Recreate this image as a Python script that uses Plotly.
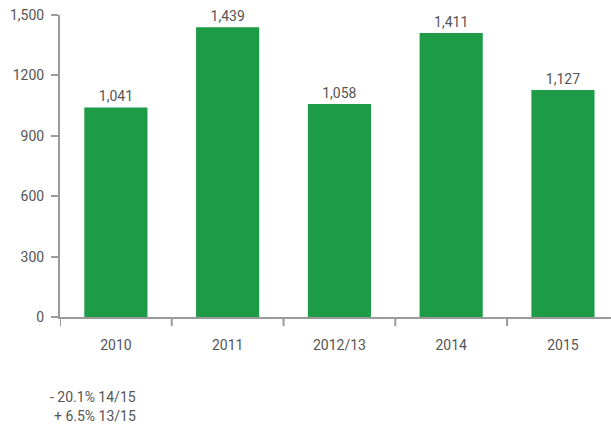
import plotly.graph_objects as go

categories = ["2010", "2011", "2012/13", "2014", "2015"]
values = [1041, 1439, 1058, 1411, 1127]
value_labels = ["1,041", "1,439", "1,058", "1,411", "1,127"]
y_tick_vals = [0, 300, 600, 900, 1200, 1500]
y_tick_text = ["0", "300", "600", "900", "1200", "1,500"]
notes = ["- 20.1% 14/15", "+ 6.5% 13/15"]

FONT = "Roboto"
TEXT = "#555555"
AXIS = "#9a9a9a"

fig = go.Figure(
    go.Bar(
        x=list(range(len(categories))),
        y=values,
        text=value_labels,
        textposition="outside",
        textfont=dict(family=FONT, size=14, color=TEXT),
        marker=dict(color="#1e9b46", line=dict(width=0)),
        cliponaxis=False,
        width=0.565,
    )
)

fig.update_layout(
    width=611,
    height=429,
    margin=dict(l=60, r=0, t=15, b=112),
    paper_bgcolor="white",
    plot_bgcolor="white",
    showlegend=False,
    font=dict(family=FONT, size=14, color=TEXT),
    xaxis=dict(
        range=[-0.5, 4.43],
        tickmode="array",
        tickvals=list(range(len(categories))),
        ticktext=categories,
        showgrid=False,
        zeroline=False,
        showline=True,
        linecolor=AXIS,
        linewidth=2,
        ticks="",
        ticklabelstandoff=14,
        tickfont=dict(family=FONT, size=14, color=TEXT),
    ),
    yaxis=dict(
        range=[0, 1500],
        tickmode="array",
        tickvals=y_tick_vals,
        ticktext=y_tick_text,
        showgrid=False,
        zeroline=False,
        showline=True,
        linecolor=AXIS,
        linewidth=2,
        ticks="outside",
        ticklen=7,
        tickwidth=2,
        tickcolor=AXIS,
        ticklabelstandoff=4,
        tickfont=dict(family=FONT, size=14, color=TEXT),
    ),
)

# category boundary ticks below the x axis
for b in [-0.5, 0.5, 1.5, 2.5, 3.5]:
    fig.add_shape(
        type="line", xref="x", yref="paper",
        x0=b, x1=b, y0=0, y1=-0.03,
        line=dict(color=AXIS, width=2),
    )

for i, note in enumerate(notes):
    fig.add_annotation(
        text=note, xref="paper", yref="paper",
        x=(138 - 60) / 551, y=-(397 + 19 * i - 317) / 302,
        xanchor="right", yanchor="middle", showarrow=False,
        font=dict(family=FONT, size=14, color=TEXT),
    )

fig.write_html("out.html")
